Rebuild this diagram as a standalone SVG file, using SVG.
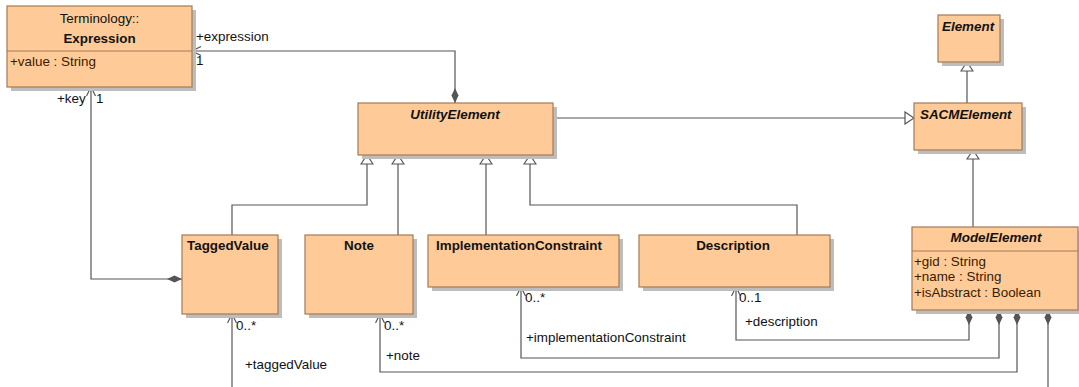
<svg xmlns="http://www.w3.org/2000/svg" width="1079" height="387" viewBox="0 0 1079 387">
<style>
.box{fill:#FECB98;stroke:#A47A52;stroke-width:1.2}
.sh{fill:#BDBDBD}
.div{stroke:#A47A52;stroke-width:1}
text{font-family:"Liberation Sans",Arial,sans-serif;font-size:13.4px;fill:#111}
.b{font-weight:bold}
.bi{font-weight:bold;font-style:italic}
.attr{fill:#3a1a00}
.ln{fill:none;stroke:#555;stroke-width:1.2}
.gen{marker-end:url(#tri)}
.comp{marker-start:url(#arr);marker-end:url(#dia)}
</style>
<defs>
<marker id="tri" markerUnits="userSpaceOnUse" viewBox="-1 -1 11 14" refX="9" refY="6" markerWidth="11" markerHeight="14" orient="auto"><path d="M0,0 L9,6 L0,12 z" fill="#fff" stroke="#555" stroke-width="1.2"/></marker>
<marker id="dia" markerUnits="userSpaceOnUse" viewBox="0 0 15 8" refX="15" refY="4" markerWidth="15" markerHeight="8" orient="auto"><path d="M0,4 L7.5,0.5 L15,4 L7.5,7.5 z" fill="#555"/></marker>
<marker id="arr" markerUnits="userSpaceOnUse" viewBox="-1 -1 11 11" refX="9" refY="4.5" markerWidth="11" markerHeight="11" orient="auto-start-reverse"><path d="M0,0 L9,4.5 L0,9" fill="none" stroke="#555" stroke-width="1.2"/></marker>
</defs>

<g id="connectors">
<path class="ln comp" d="M192,51 H455 V103"/>
<path class="ln comp" d="M91,87 V279 H182"/>
<path class="ln gen" d="M232,235 V205 H367 V155"/>
<path class="ln gen" d="M398,235 V155"/>
<path class="ln gen" d="M486,235 V155"/>
<path class="ln gen" d="M797,235 V205 H530 V155"/>
<path class="ln gen" d="M553,118 H914"/>
<path class="ln gen" d="M967,103 V62"/>
<path class="ln gen" d="M973,227 V150"/>
<path class="ln comp" d="M736,287 V340 H969 V310"/>
<path class="ln comp" d="M521,287 V358 H999 V310"/>
<path class="ln comp" d="M380,314 V372 H1017 V310"/>
<path class="ln" style="marker-start:url(#arr)" d="M232,314 V390"/>
<path class="ln" style="marker-end:url(#dia)" d="M1048,390 V310"/>
<text x="196" y="41">+expression</text>
<text x="196" y="65">1</text>
<text x="57" y="103">+key</text>
<text x="96" y="103">1</text>
<text x="236" y="330">0..*</text>
<text x="245" y="369">+taggedValue</text>
<text x="384" y="330">0..*</text>
<text x="386" y="360">+note</text>
<text x="525" y="302">0..*</text>
<text x="526" y="342">+implementationConstraint</text>
<text x="739" y="302">0..1</text>
<text x="745" y="326">+description</text>
</g>

<g id="Expression">
<rect class="sh" x="11" y="10" width="185" height="81"/>
<rect class="box" x="7" y="6" width="185" height="81"/>
<line class="div" x1="7" y1="51" x2="192" y2="51"/>
<text x="99.5" y="23" text-anchor="middle">Terminology::</text>
<text class="b" x="99.5" y="43" text-anchor="middle">Expression</text>
<text class="attr" x="10" y="66">+value : String</text>
</g>

<g id="UtilityElement">
<rect class="sh" x="362" y="107" width="195" height="52"/>
<rect class="box" x="358" y="103" width="195" height="52"/>
<text class="bi" x="455" y="119" text-anchor="middle">UtilityElement</text>
</g>

<g id="Element">
<rect class="sh" x="942" y="19" width="62" height="47"/>
<rect class="box" x="938" y="15" width="62" height="47"/>
<text class="bi" x="942" y="31">Element</text>
</g>

<g id="SACMElement">
<rect class="sh" x="918" y="107" width="108" height="47"/>
<rect class="box" x="914" y="103" width="108" height="47"/>
<text class="bi" x="920" y="119">SACMElement</text>
</g>

<g id="TaggedValue">
<rect class="sh" x="186" y="239" width="96" height="79"/>
<rect class="box" x="182" y="235" width="96" height="79"/>
<text class="b" x="187" y="250">TaggedValue</text>
</g>

<g id="Note">
<rect class="sh" x="309" y="239" width="108" height="79"/>
<rect class="box" x="305" y="235" width="108" height="79"/>
<text class="b" x="359" y="250" text-anchor="middle">Note</text>
</g>

<g id="ImplementationConstraint">
<rect class="sh" x="432" y="239" width="191" height="52"/>
<rect class="box" x="428" y="235" width="191" height="52"/>
<text class="b" x="436" y="250">ImplementationConstraint</text>
</g>

<g id="Description">
<rect class="sh" x="643" y="239" width="191" height="52"/>
<rect class="box" x="639" y="235" width="191" height="52"/>
<text class="b" x="733" y="250" text-anchor="middle">Description</text>
</g>

<g id="ModelElement">
<rect class="sh" x="916" y="231" width="166" height="83"/>
<rect class="box" x="912" y="227" width="166" height="83"/>
<line class="div" x1="912" y1="251" x2="1078" y2="251"/>
<text class="bi" x="996" y="242" text-anchor="middle">ModelElement</text>
<text class="attr" x="914" y="266">+gid : String</text>
<text class="attr" x="914" y="281">+name : String</text>
<text class="attr" x="914" y="297">+isAbstract : Boolean</text>
</g>
</svg>
